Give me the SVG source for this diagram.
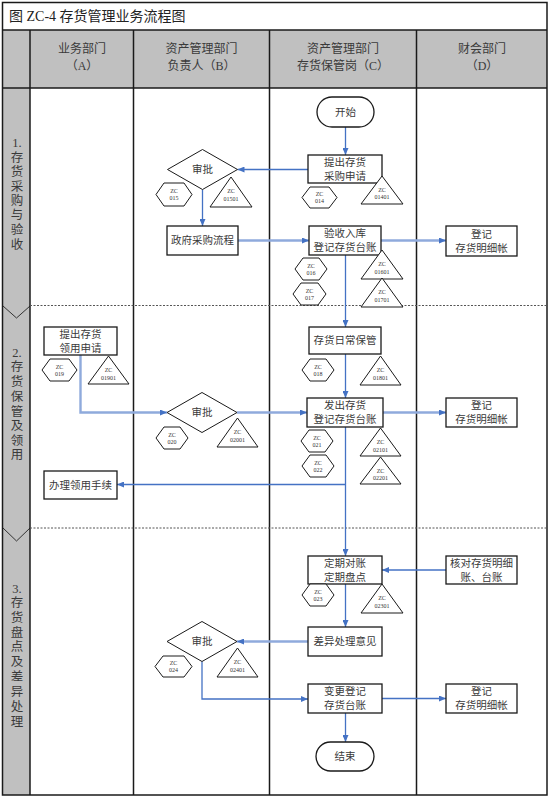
<svg xmlns="http://www.w3.org/2000/svg" width="553" height="797" viewBox="0 0 553 797">
<style>
.bg{fill:#fff}
.gray{fill:#c0c0c0}
.grid{stroke:#1a1a1a;stroke-width:1.5;fill:none}
.dash{stroke:#555;stroke-width:1;stroke-dasharray:2,1.5;fill:none}
.box{fill:#fff;stroke:#1a1a1a;stroke-width:1.3}
.sym{fill:#fff;stroke:#1a1a1a;stroke-width:1}
.t{font-family:"Liberation Serif","Noto Sans CJK SC",serif;font-size:10.5px;fill:#3a3a3a;text-anchor:middle;dominant-baseline:central}
.h{font-family:"Liberation Serif","Noto Sans CJK SC",serif;font-size:12px;fill:#3a3a3a;text-anchor:middle;dominant-baseline:central}
.p{font-family:"Liberation Serif","Noto Sans CJK SC",serif;font-size:12.5px;fill:#3a3a3a;text-anchor:middle;dominant-baseline:central}
.zc{font-family:"Liberation Serif",serif;font-size:6px;fill:#333;text-anchor:middle;dominant-baseline:central}
.c1{stroke:#4472c4;stroke-width:1.3;fill:none;marker-end:url(#ah)}
.c2{stroke:#8faadc;stroke-width:2.4;fill:none;marker-end:url(#ah)}
</style>
<defs>
<marker id="ah" markerUnits="userSpaceOnUse" markerWidth="7" markerHeight="6" refX="7" refY="3" orient="auto">
<path d="M0,0 L7,3 L0,6 z" fill="#4472c4"/>
</marker>
</defs>

<g id="frame">
<rect class="bg" x="0" y="0" width="553" height="797"/>
<rect class="gray" x="2.5" y="30" width="544.5" height="58"/>
<rect class="gray" x="2.5" y="88" width="27.5" height="707"/>
<polyline points="3,306 16.5,318 30,306" fill="none" stroke="#333" stroke-width="1"/>
<polyline points="3,528 16.5,541 30,528" fill="none" stroke="#333" stroke-width="1"/>
<rect class="grid" x="2.5" y="2.5" width="544.5" height="792.5"/>
<line class="grid" x1="2.5" y1="30" x2="547" y2="30"/>
<line class="grid" x1="2.5" y1="88" x2="547" y2="88"/>
<line class="grid" x1="30" y1="30" x2="30" y2="795"/>
<line class="grid" x1="133.5" y1="30" x2="133.5" y2="795"/>
<line class="grid" x1="269.5" y1="30" x2="269.5" y2="795"/>
<line class="grid" x1="416.5" y1="30" x2="416.5" y2="795"/>
<line class="dash" x1="30" y1="305.5" x2="547" y2="305.5"/>
<line class="dash" x1="30" y1="528" x2="547" y2="528"/>
<text x="9" y="16" style="font-family:'Liberation Serif','Noto Sans CJK SC',serif;font-size:14px;fill:#222;dominant-baseline:central">图 ZC-4 存货管理业务流程图</text>
<text class="h" x="82" y="49">业务部门</text>
<text class="h" x="82" y="66">（A）</text>
<text class="h" x="201.5" y="49">资产管理部门</text>
<text class="h" x="201.5" y="66">负责人（B）</text>
<text class="h" x="343" y="49">资产管理部门</text>
<text class="h" x="343" y="66">存货保管岗（C）</text>
<text class="h" x="482" y="49">财会部门</text>
<text class="h" x="482" y="66">（D）</text>
</g>

<g id="phase1">
<text class="p" x="17" y="143">1.</text>
<text class="p" x="17" y="158">存</text>
<text class="p" x="17" y="172">货</text>
<text class="p" x="17" y="187">采</text>
<text class="p" x="17" y="201">购</text>
<text class="p" x="17" y="215">与</text>
<text class="p" x="17" y="230">验</text>
<text class="p" x="17" y="245">收</text>
</g>
<g id="phase2">
<text class="p" x="17" y="353">2.</text>
<text class="p" x="17" y="367">存</text>
<text class="p" x="17" y="382">货</text>
<text class="p" x="17" y="397">保</text>
<text class="p" x="17" y="412">管</text>
<text class="p" x="17" y="426">及</text>
<text class="p" x="17" y="441">领</text>
<text class="p" x="17" y="455">用</text>
</g>
<g id="phase3">
<text class="p" x="17" y="589">3.</text>
<text class="p" x="17" y="603">存</text>
<text class="p" x="17" y="618">货</text>
<text class="p" x="17" y="633">盘</text>
<text class="p" x="17" y="647">点</text>
<text class="p" x="17" y="662">及</text>
<text class="p" x="17" y="677">差</text>
<text class="p" x="17" y="692">异</text>
<text class="p" x="17" y="707">处</text>
<text class="p" x="17" y="722">理</text>
</g>

<g id="connectors">
<path class="c1" d="M345.5 127 V155"/>
<path class="c1" d="M308 169.5 H237.5"/>
<path class="c1" d="M202.5 189.5 V226"/>
<path class="c2" d="M238 240.5 H309"/>
<path class="c2" d="M381 240.5 H446"/>
<path class="c1" d="M345.5 255 V327"/>
<path class="c2" d="M80.5 355 V412.5 H167"/>
<path class="c2" d="M237 412.5 H307"/>
<path class="c2" d="M383 412.5 H446"/>
<path class="c1" d="M345.5 354 V398"/>
<path class="c1" d="M345.5 427 V556"/>
<path class="c1" d="M345.5 484.5 H117"/>
<path class="c1" d="M446 570 H382"/>
<path class="c1" d="M345.5 584 V627"/>
<path class="c2" d="M308 641.5 H237"/>
<path class="c1" d="M202 661.5 V699 H308"/>
<path class="c1" d="M382 698.5 H446"/>
<path class="c1" d="M345.5 713 V742"/>
</g>

<g id="start"><rect class="box" x="317" y="97" width="57" height="30" rx="15"/><text class="t" x="345.5" y="112">开始</text></g>
<g id="c_req"><rect class="box" x="308" y="155" width="74" height="28"/><text class="t" x="345" y="162">提出存货</text><text class="t" x="345" y="176">采购申请</text></g>
<g id="zc014"><polygon class="sym" points="302,197.5 310,187 329,187 337,197.5 329,208 310,208"/><text class="zc" x="319.5" y="194">ZC</text><text class="zc" x="319.5" y="201">014</text></g>
<g id="zc01401"><polygon class="sym" points="382,176 403,204 361,204"/><text class="zc" x="382" y="189.5">ZC</text><text class="zc" x="382" y="197">01401</text></g>

<g id="b_approve1"><polygon class="sym" points="167.5,169.5 202.5,149.5 237.5,169.5 202.5,189.5"/><text class="t" x="202.5" y="169.5">审批</text></g>
<g id="zc015"><polygon class="sym" points="156,194.5 164,183 184,183 192,194.5 184,206 164,206"/><text class="zc" x="174" y="191">ZC</text><text class="zc" x="174" y="198">015</text></g>
<g id="zc01501"><polygon class="sym" points="231,177 252,207 210,207"/><text class="zc" x="231" y="191">ZC</text><text class="zc" x="231" y="198.5">01501</text></g>
<g id="b_gov"><rect class="box" x="167" y="226" width="71" height="29"/><text class="t" x="202.5" y="240.5">政府采购流程</text></g>

<g id="c_receive"><rect class="box" x="309" y="226" width="72" height="29"/><text class="t" x="345" y="233.5">验收入库</text><text class="t" x="345" y="247.5">登记存货台账</text></g>
<g id="zc016"><polygon class="sym" points="295,269 303,258 319,258 327,269 319,280 303,280"/><text class="zc" x="311" y="265.5">ZC</text><text class="zc" x="311" y="272.5">016</text></g>
<g id="zc017"><polygon class="sym" points="293,294 301,283 318,283 326,294 318,305 301,305"/><text class="zc" x="309.5" y="290.5">ZC</text><text class="zc" x="309.5" y="297.5">017</text></g>
<g id="zc01601"><polygon class="sym" points="382,250 403,279 361,279"/><text class="zc" x="382" y="264">ZC</text><text class="zc" x="382" y="271.5">01601</text></g>
<g id="zc01701"><polygon class="sym" points="382,278 403,307 361,307"/><text class="zc" x="382" y="292">ZC</text><text class="zc" x="382" y="299.5">01701</text></g>
<g id="d_reg1"><rect class="box" x="446" y="226" width="71" height="30"/><text class="t" x="481.5" y="234">登记</text><text class="t" x="481.5" y="248">存货明细帐</text></g>

<g id="a_req"><rect class="box" x="44" y="327" width="73" height="28"/><text class="t" x="80.5" y="334">提出存货</text><text class="t" x="80.5" y="348">领用申请</text></g>
<g id="zc019"><polygon class="sym" points="42,370 50,359 69,359 77,370 69,381 50,381"/><text class="zc" x="59.5" y="366.5">ZC</text><text class="zc" x="59.5" y="373.5">019</text></g>
<g id="zc01901"><polygon class="sym" points="108.5,356 129,384 88,384"/><text class="zc" x="108.5" y="370">ZC</text><text class="zc" x="108.5" y="377.5">01901</text></g>
<g id="c_keep"><rect class="box" x="309" y="327" width="72" height="27"/><text class="t" x="345" y="340.5">存货日常保管</text></g>
<g id="zc018"><polygon class="sym" points="302,370 310,359 326,359 334,370 326,381 310,381"/><text class="zc" x="318" y="366.5">ZC</text><text class="zc" x="318" y="373.5">018</text></g>
<g id="zc01801"><polygon class="sym" points="380.5,356 401,385 360,385"/><text class="zc" x="380.5" y="370">ZC</text><text class="zc" x="380.5" y="377.5">01801</text></g>

<g id="b_approve2"><polygon class="sym" points="167,412.5 202,392.5 237,412.5 202,432.5"/><text class="t" x="202" y="412.5">审批</text></g>
<g id="zc020"><polygon class="sym" points="156,438 164,427 180,427 188,438 180,449 164,449"/><text class="zc" x="172" y="434.5">ZC</text><text class="zc" x="172" y="441.5">020</text></g>
<g id="zc02001"><polygon class="sym" points="237.5,418 258,447 217,447"/><text class="zc" x="237.5" y="432">ZC</text><text class="zc" x="237.5" y="439.5">02001</text></g>
<g id="c_issue"><rect class="box" x="307" y="398" width="76" height="29"/><text class="t" x="345" y="405.5">发出存货</text><text class="t" x="345" y="419.5">登记存货台账</text></g>
<g id="zc021"><polygon class="sym" points="301,441 309,430 325,430 333,441 325,452 309,452"/><text class="zc" x="317" y="437.5">ZC</text><text class="zc" x="317" y="444.5">021</text></g>
<g id="zc022"><polygon class="sym" points="302,466 310,455 326,455 334,466 326,477 310,477"/><text class="zc" x="318" y="462.5">ZC</text><text class="zc" x="318" y="469.5">022</text></g>
<g id="zc02101"><polygon class="sym" points="380.5,428 401,456 360,456"/><text class="zc" x="380.5" y="442">ZC</text><text class="zc" x="380.5" y="449.5">02101</text></g>
<g id="zc02201"><polygon class="sym" points="380.5,457 401,484 360,484"/><text class="zc" x="380.5" y="470.5">ZC</text><text class="zc" x="380.5" y="478">02201</text></g>
<g id="d_reg2"><rect class="box" x="446" y="398" width="71" height="29"/><text class="t" x="481.5" y="405.5">登记</text><text class="t" x="481.5" y="419.5">存货明细帐</text></g>
<g id="a_handle"><rect class="box" x="44" y="471" width="73" height="28"/><text class="t" x="80.5" y="485">办理领用手续</text></g>

<g id="c_check"><rect class="box" x="308" y="556" width="74" height="28"/><text class="t" x="345" y="563">定期对账</text><text class="t" x="345" y="577">定期盘点</text></g>
<g id="zc023"><polygon class="sym" points="302,595 310,584 326,584 334,595 326,606 310,606"/><text class="zc" x="318" y="591.5">ZC</text><text class="zc" x="318" y="598.5">023</text></g>
<g id="zc02301"><polygon class="sym" points="382,584 403,613 361,613"/><text class="zc" x="382" y="598">ZC</text><text class="zc" x="382" y="605.5">02301</text></g>
<g id="d_verify"><rect class="box" x="446" y="556" width="71" height="28"/><text class="t" x="481.5" y="563">核对存货明细</text><text class="t" x="481.5" y="577">账、台账</text></g>
<g id="c_diff"><rect class="box" x="308" y="627" width="74" height="29"/><text class="t" x="345" y="641.5">差异处理意见</text></g>
<g id="b_approve3"><polygon class="sym" points="167,641.5 202,621.5 237,641.5 202,661.5"/><text class="t" x="202" y="641.5">审批</text></g>
<g id="zc024"><polygon class="sym" points="155,666.5 163,656 184,656 192,666.5 184,677 163,677"/><text class="zc" x="173.5" y="663">ZC</text><text class="zc" x="173.5" y="670">024</text></g>
<g id="zc02401"><polygon class="sym" points="237.5,648 258,677 217,677"/><text class="zc" x="237.5" y="662">ZC</text><text class="zc" x="237.5" y="669.5">02401</text></g>
<g id="c_change"><rect class="box" x="308" y="684" width="74" height="29"/><text class="t" x="345" y="691.5">变更登记</text><text class="t" x="345" y="705.5">存货台账</text></g>
<g id="d_reg3"><rect class="box" x="446" y="684" width="71" height="29"/><text class="t" x="481.5" y="691.5">登记</text><text class="t" x="481.5" y="705.5">存货明细帐</text></g>
<g id="end"><rect class="box" x="316" y="742" width="58" height="29" rx="14.5"/><text class="t" x="345" y="756.5">结束</text></g>
</svg>
